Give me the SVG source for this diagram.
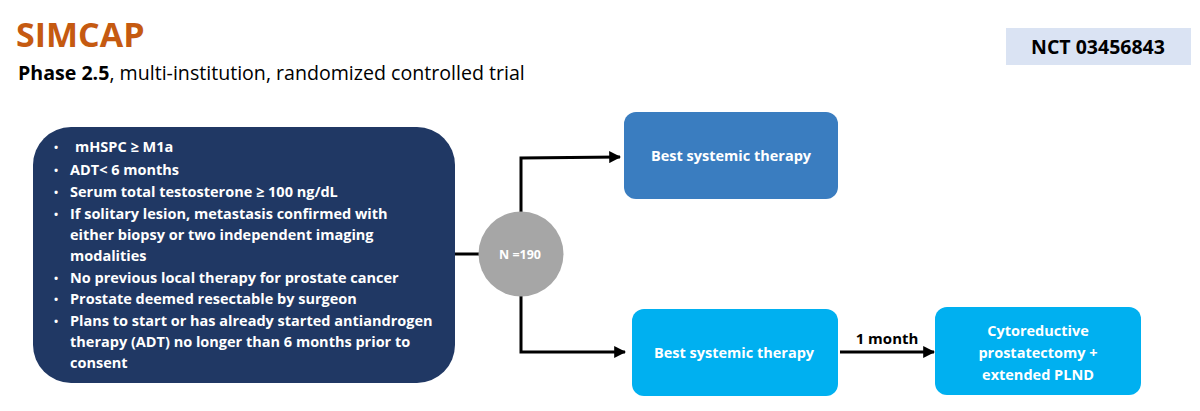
<svg xmlns="http://www.w3.org/2000/svg" width="1200" height="411" viewBox="0 0 1200 411">
<style>
text{font-family:"Open Sans","Liberation Sans",sans-serif;}
.w{fill:#fff;font-weight:bold;}
.crit{fill:#fff;font-weight:bold;font-size:14.5px;}
.bul{font-size:11px;}
.box{font-size:14.5px;}
.conn{stroke:#000;stroke-width:3;fill:none;}
</style>
<defs>
<marker id="ah" viewBox="0 0 10 10" refX="9" refY="5" markerWidth="4" markerHeight="4" orient="auto" markerUnits="strokeWidth">
<path d="M0,0 L10,5 L0,10 z" fill="#000"/>
</marker>
</defs>
<rect width="1200" height="411" fill="#fff"/>
<g id="title">
<text x="16" y="47" font-size="34" font-weight="bold" fill="#C55A11">SIMCAP</text>
<text x="18" y="80" font-size="19.6" fill="#000"><tspan font-weight="bold">Phase 2.5</tspan>, multi-institution, randomized controlled trial</text>
</g>
<g id="nct">
<rect x="1006" y="28" width="185" height="37" fill="#DAE3F3"/>
<text x="1098" y="53.5" font-size="19.5" font-weight="bold" text-anchor="middle" fill="#000">NCT 03456843</text>
</g>
<g id="connectors">
<line class="conn" x1="455" y1="254" x2="480" y2="254"/>
<polyline class="conn" points="521,212 521,158 620,157" marker-end="url(#ah)"/>
<polyline class="conn" points="521,296 521,352 625,352" marker-end="url(#ah)"/>
<line class="conn" x1="840" y1="352" x2="934" y2="352" marker-end="url(#ah)"/>
<text x="887" y="344" font-size="15" font-weight="bold" text-anchor="middle" fill="#000">1 month</text>
</g>
<g id="criteria">
<rect x="33" y="127" width="422" height="256" rx="38" fill="#203864"/>
<g class="crit">
<text x="54" y="151" class="bul">•</text><text x="75" y="152">mHSPC ≥ M1a</text>
<text x="54" y="174" class="bul">•</text><text x="70" y="175">ADT&lt; 6 months</text>
<text x="54" y="196" class="bul">•</text><text x="70" y="197">Serum total testosterone ≥ 100 ng/dL</text>
<text x="54" y="218" class="bul">•</text><text x="70" y="219">If solitary lesion, metastasis confirmed with</text>
<text x="70" y="240">either biopsy or two independent imaging</text>
<text x="70" y="261">modalities</text>
<text x="54" y="282" class="bul">•</text><text x="70" y="283">No previous local therapy for prostate cancer</text>
<text x="54" y="303" class="bul">•</text><text x="70" y="304">Prostate deemed resectable by surgeon</text>
<text x="54" y="325" class="bul">•</text><text x="70" y="326">Plans to start or has already started antiandrogen</text>
<text x="70" y="347">therapy (ADT) no longer than 6 months prior to</text>
<text x="70" y="368">consent</text>
</g>
</g>
<g id="randomization">
<circle cx="521" cy="254" r="42.5" fill="#A6A6A6"/>
<text x="520" y="258.5" font-size="12.5" class="w" text-anchor="middle">N =190</text>
</g>
<g id="arm1">
<rect x="624" y="112" width="214" height="87" rx="12" fill="#3A7DC0"/>
<text x="731" y="161" class="w box" text-anchor="middle">Best systemic therapy</text>
</g>
<g id="arm2">
<rect x="632" y="309" width="206" height="87" rx="12" fill="#00B0F0"/>
<text x="734" y="358" class="w box" text-anchor="middle">Best systemic therapy</text>
</g>
<g id="surgery">
<rect x="935" y="307" width="206" height="88" rx="12" fill="#00B0F0"/>
<text x="1038" y="336" class="w box" text-anchor="middle">Cytoreductive</text>
<text x="1038" y="358" class="w box" text-anchor="middle">prostatectomy +</text>
<text x="1038" y="380" class="w box" text-anchor="middle">extended PLND</text>
</g>
</svg>
